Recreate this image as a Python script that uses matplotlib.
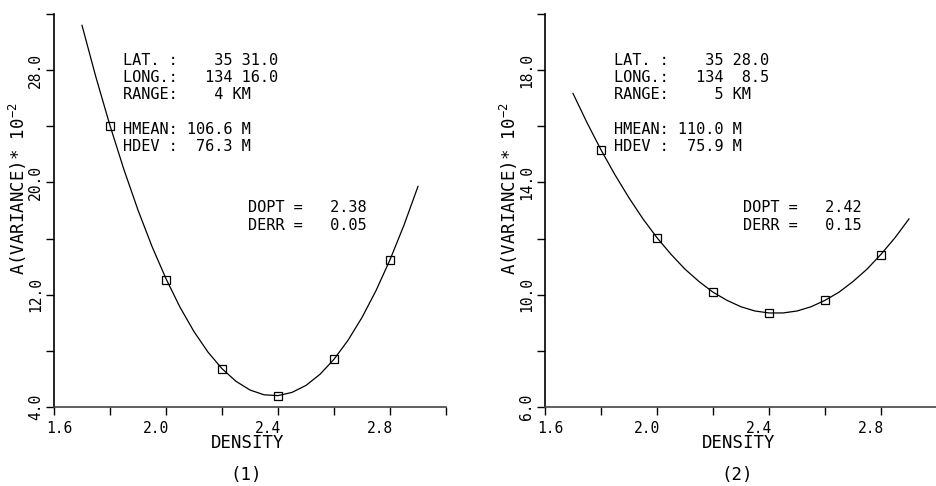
import matplotlib
matplotlib.use("Agg")
import matplotlib.pyplot as plt
import matplotlib.transforms as mtransforms

plt.rcParams['font.family'] = ['DejaVu Sans Mono', 'DejaVu Sans']
plt.rcParams['mathtext.default'] = 'regular'

########## data
density_pts = [1.8, 2.0, 2.2, 2.4, 2.6, 2.8]
var1_pts = [24.0, 13.06, 6.71, 4.81, 7.40, 14.50]
var2_pts = [15.14, 12.02, 10.10, 9.35, 9.80, 11.43]

# fitted curves, sampled every 0.05
curve_x = [1.70, 1.75, 1.80, 1.85, 1.90, 1.95, 2.00, 2.05, 2.10, 2.15, 2.20, 2.25, 2.30,
           2.35, 2.40, 2.45, 2.50, 2.55, 2.60, 2.65, 2.70, 2.75, 2.80, 2.85, 2.90]
curve1 = [31.19, 27.48, 24.05, 20.90, 18.03, 15.44, 13.14, 11.11, 9.37, 7.91, 6.73, 5.83, 5.21,
          4.87, 4.81, 5.04, 5.54, 6.33, 7.40, 8.75, 10.38, 12.29, 14.49, 16.96, 19.72]
curve2 = [17.17, 16.13, 15.16, 14.27, 13.45, 12.70, 12.03, 11.44, 10.91, 10.47, 10.09, 9.80, 9.57,
          9.42, 9.35, 9.35, 9.42, 9.57, 9.80, 10.09, 10.47, 10.91, 11.44, 12.03, 12.70]

xmajor = [1.6, 2.0, 2.4, 2.8]
xminor = [1.8, 2.2, 2.6, 3.0]
xlabels = ['1.6', '2.0', '2.4', '2.8']

ymajor1 = [4, 12, 20, 28]
yminor1 = [8, 16, 24, 32]
ylabels1 = ['4.0', '12.0', '20.0', '28.0']
ymajor2 = [6, 10, 14, 18]
yminor2 = [8, 12, 16, 20]
ylabels2 = ['6.0', '10.0', '14.0', '18.0']

info1 = ["LAT. :    35 31.0", "LONG.:   134 16.0", "RANGE:    4 KM", "",
         "HMEAN: 106.6 M", "HDEV :  76.3 M"]
info2 = ["LAT. :    35 28.0", "LONG.:   134  8.5", "RANGE:     5 KM", "",
         "HMEAN: 110.0 M", "HDEV :  75.9 M"]
fit1 = ["DOPT =   2.38", "DERR =   0.05"]
fit2 = ["DOPT =   2.42", "DERR =   0.15"]
##############################################

W, H = 937, 486
fig = plt.figure(figsize=(W / 100., H / 100.), dpi=100)

def px2ax(py):
    # figure pixel row -> axes fraction (axes spans rows 14..407)
    return (407. - py) / 393.

def PlotPanel(left_px, ys, curve, ylim, ymaj, ymin, ylabs, info, fit, caption, fitx_px):
	ax = fig.add_axes([left_px / W, 1 - 407. / H, 392. / W, 393. / H])
	ax.plot(curve_x, curve, color='black', lw=0.9)
	ax.plot(density_pts, ys, 's', ms=6, mfc='none', mec='black', mew=0.9)

	ax.set_xlim(1.6, 3.0)
	ax.set_ylim(ylim)
	ax.set_xticks(xmajor)
	ax.set_xticklabels(xlabels)
	ax.set_xticks(xminor, minor=True)
	ax.set_yticks(ymaj)
	ax.set_yticklabels(ylabs)
	ax.set_yticks(ymin, minor=True)

	ax.tick_params(which='both', direction='out', length=6, width=1, color='black')
	ax.tick_params(axis='x', labelsize=10.5, pad=4)
	ax.tick_params(axis='y', labelsize=10.5, pad=2, labelrotation=90)
	for lab in ax.get_yticklabels():
		lab.set_va('center')

	for s in ['top', 'right']:
		ax.spines[s].set_visible(False)
	ax.spines['left'].set_linewidth(1.2)
	ax.spines['bottom'].set_linewidth(1.2)
	ax.spines['bottom'].set_color('#444444')

	# plotter put the x labels a bit left of the ticks
	for i, lab in enumerate(ax.get_xticklabels()):
		dx = 0.05 if i == 0 else -0.10
		lab.set_transform(lab.get_transform() +
		                  mtransforms.ScaledTranslation(dx, 0, fig.dpi_scale_trans))

	ax.set_xlabel('DENSITY', fontsize=12.5, va='center')
	ax.xaxis.set_label_coords(0.493, -0.092)
	ax.text(-0.091, 0.555, 'A(VARIANCE)* 10$^{-2}$', transform=ax.transAxes,
	        rotation=90, ha='center', va='center', fontsize=12.5)
	ax.text(0.49, -0.173, caption, transform=ax.transAxes, ha='center', va='center',
	        fontsize=12.5)

	base = 64.8
	for i, line in enumerate(info):
		ax.text(0.176, px2ax(base + i * 17.3), line, transform=ax.transAxes,
		        ha='left', va='baseline', fontsize=11)
	for i, line in enumerate(fit):
		ax.text(fitx_px, px2ax(212.2 + i * 17.3), line, transform=ax.transAxes,
		        ha='left', va='baseline', fontsize=11)
	return ax

PlotPanel(54, var1_pts, curve1, (4, 32), ymajor1, yminor1, ylabels1, info1, fit1, '(1)', 0.495)
PlotPanel(545, var2_pts, curve2, (6, 20), ymajor2, yminor2, ylabels2, info2, fit2, '(2)', 0.504)

fig.savefig('out.png', dpi=100)
